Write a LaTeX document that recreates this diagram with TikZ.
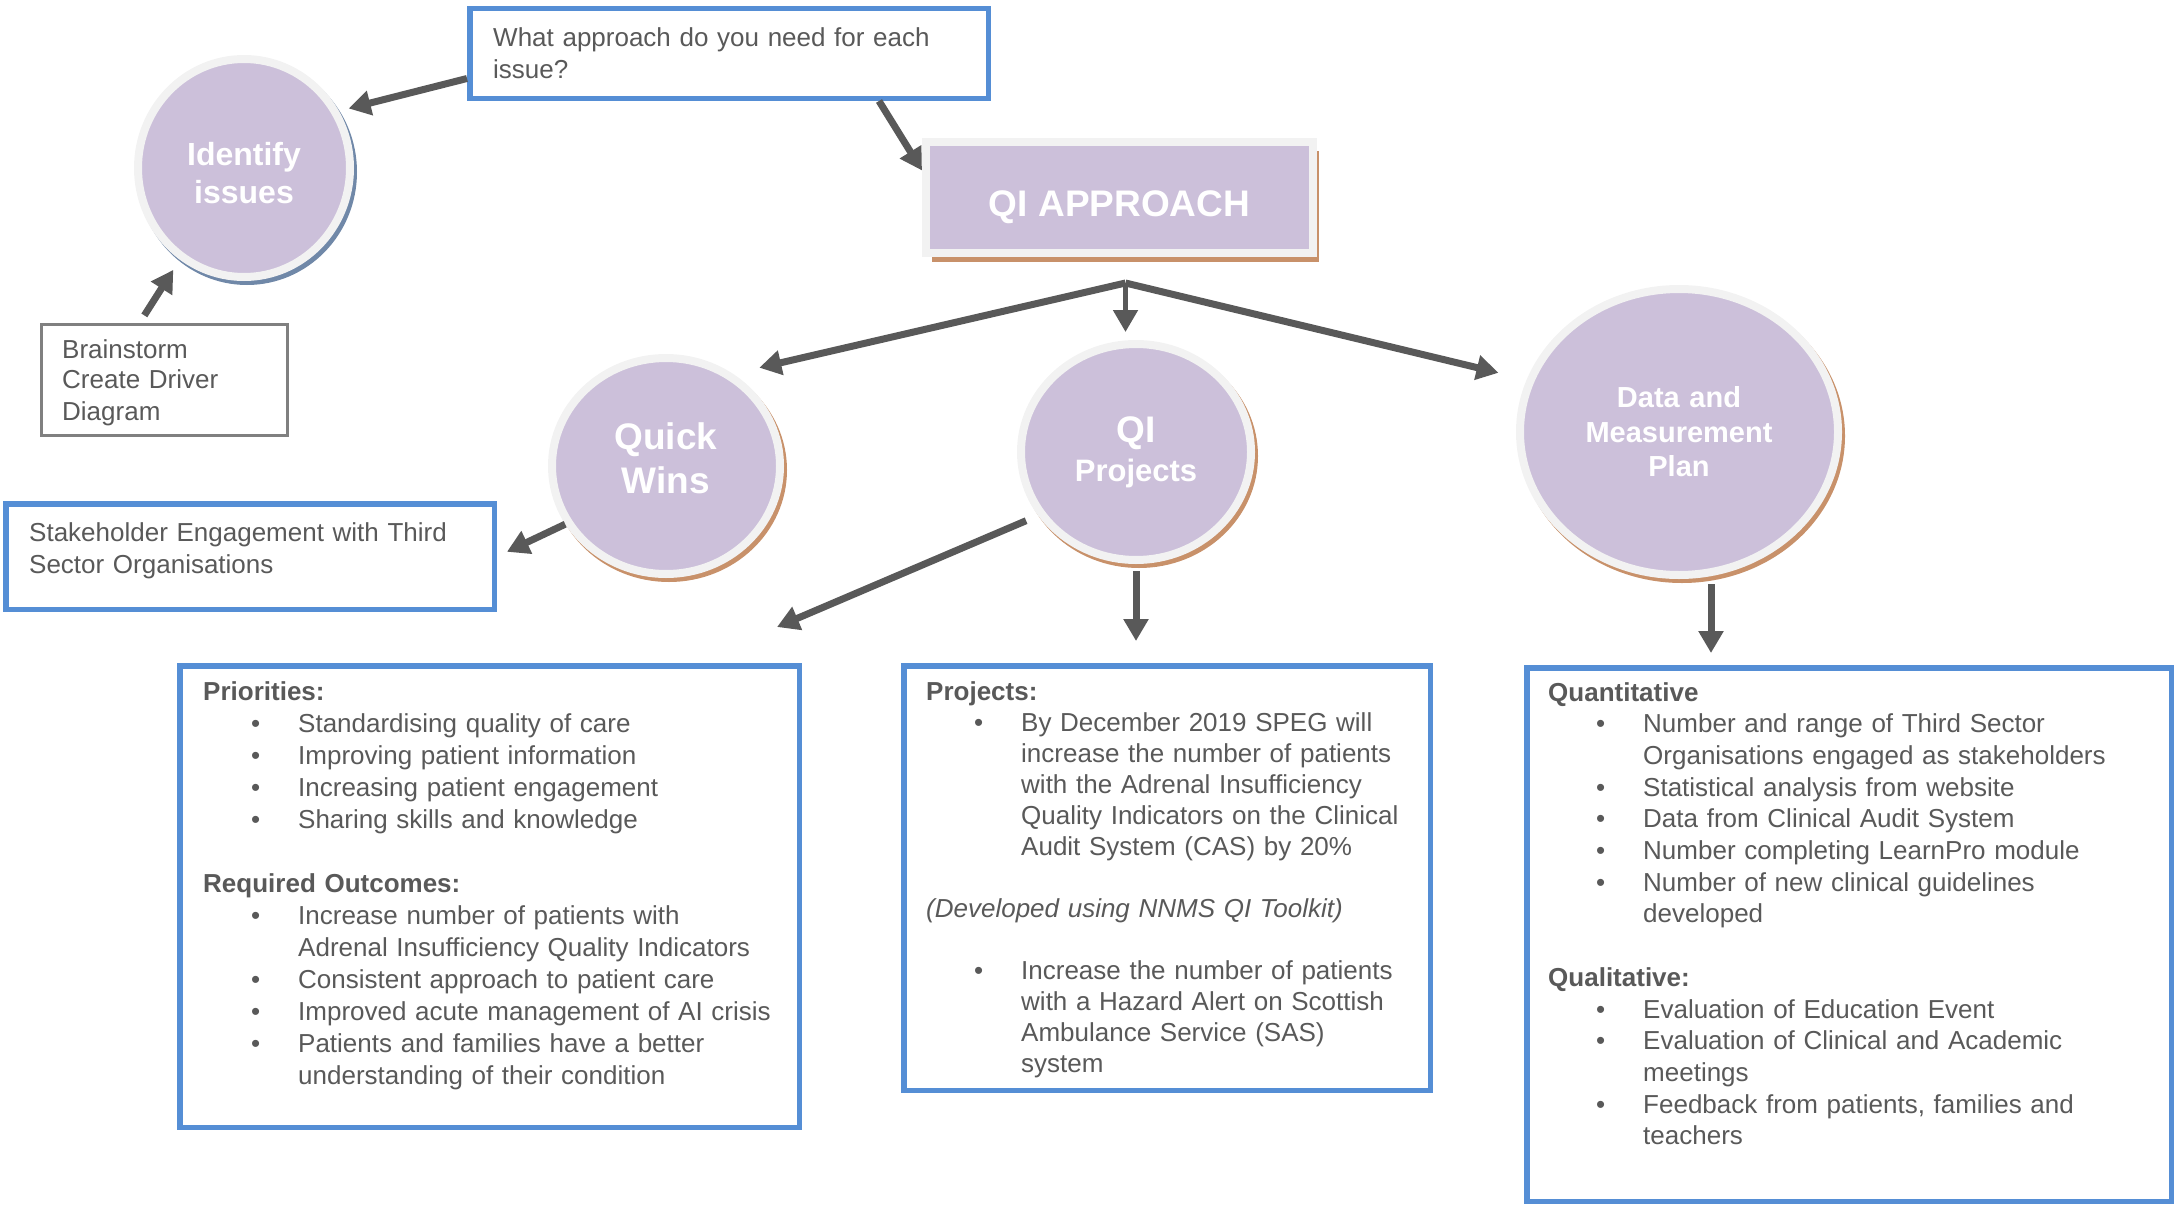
\documentclass[tikz,border=0pt]{standalone}
\usepackage{fontspec}
\setmainfont{Liberation Sans}
\usetikzlibrary{shapes.geometric,arrows.meta,shadows}

\definecolor{qipurple}{HTML}{CCC0DA}
\definecolor{ringgrey}{HTML}{F2F2F2}
\definecolor{qiblue}{HTML}{558ED5}
\definecolor{inkgrey}{HTML}{595959}
\definecolor{framegrey}{HTML}{808080}
\definecolor{tanshadow}{HTML}{C8916A}
\definecolor{slateshadow}{HTML}{7088A8}

\newcommand{\qibody}{\fontsize{26}{32}\selectfont}
\newcommand{\qibr}{\hfil\break}
\newcommand{\qiitem}[1]{\par\hangindent=95pt\hangafter=0\noindent\llap{\makebox[47pt][l]{\textbullet}}#1}
\newcommand{\qigap}{\par\vspace{\baselineskip}}

\tikzset{
  bubble/.style={ellipse, fill=qipurple, draw=ringgrey, line width=8pt, text=white,
    align=center, inner sep=2pt,
    drop shadow={shadow xshift=3pt, shadow yshift=-4pt, fill=#1, draw=#1, opacity=1}},
  bubble/.default=tanshadow,
  plate/.style={fill=qipurple, draw=ringgrey, line width=8pt, text=white,
    drop shadow={shadow xshift=6pt, shadow yshift=-9pt, fill=tanshadow, opacity=1}},
  bluebox/.style={draw=qiblue, line width=5.5pt, fill=white, inner sep=0pt},
  greybox/.style={draw=framegrey, line width=3pt, fill=white, inner sep=0pt},
  boxtext/.style={text=inkgrey, font=\qibody, align=left, inner sep=0pt, anchor=base west},
  qiarrow/.style={draw=inkgrey, line width=7pt, -{Triangle[length=22pt,width=24pt]}},
}

\begin{document}
\begin{tikzpicture}[x=1pt,y=-1pt]
  \useasboundingbox (0,0) rectangle (2179,1207);

  % top row
  \node[bubble=slateshadow, minimum width=212pt, minimum height=218pt, text width=120pt,
    text height=33pt, font=\fontsize{32}{38}\selectfont\bfseries] (idc) at (244,168) {Identify\\issues};
  \node[bluebox, minimum width=518.5pt, minimum height=89.5pt] (what) at (729,53.5) {};
  \node[boxtext, text width=480pt] (whattxt) at (493,47)
    {\fontsize{26}{30}\selectfont What approach do you need for each\\issue?};
  \node[greybox, minimum width=246pt, minimum height=111pt] (brain) at (164.5,380) {};
  \node[boxtext, text width=220pt] (braintxt) at (62,358)
    {\fontsize{26}{30.5}\selectfont Brainstorm\\Create Driver\\Diagram};
  \node[plate, minimum width=387pt, minimum height=111pt, text height=38pt, text depth=0pt,
    font=\fontsize{37}{44}\selectfont\bfseries] (qia) at (1119.5,197.5) {QI APPROACH};

  % middle row
  \node[bubble, minimum width=228pt, minimum height=216pt, text width=120pt, text depth=60pt,
    font=\fontsize{37}{44}\selectfont\bfseries] (qw) at (666,466) {Quick\\Wins};
  \node[bubble, minimum width=230pt, minimum height=216pt, text width=130pt,
    font=\fontsize{31}{39}\selectfont\bfseries] (qip) at (1136,452)
    {{\fontsize{37}{39}\selectfont QI}\\Projects};
  \node[bubble, minimum width=318pt, minimum height=286pt, text width=195pt,
    font=\fontsize{29}{34.5}\selectfont\bfseries] (dmp) at (1679,432)
    {Data and\\Measurement\\Plan};
  \node[bluebox, minimum width=488.5pt, minimum height=105.5pt] (stake) at (250,556.5) {};
  \node[boxtext, text width=460pt] (staketxt) at (29,541)
    {\fontsize{26}{30}\selectfont Stakeholder Engagement with Third\\Sector Organisations};

  % bottom row
  \node[bluebox, minimum width=619.5pt, minimum height=461.5pt] (prio) at (489.5,896.5) {};
  \node[boxtext, text width=580pt] (priotxt) at (203,700) {%
    \textbf{Priorities:}
    \qiitem{Standardising quality of care}
    \qiitem{Improving patient information}
    \qiitem{Increasing patient engagement}
    \qiitem{Sharing skills and knowledge}
    \qigap\textbf{Required Outcomes:}
    \qiitem{Increase number of patients with\qibr Adrenal Insufficiency Quality Indicators}
    \qiitem{Consistent approach to patient care}
    \qiitem{Improved acute management of AI crisis}
    \qiitem{Patients and families have a better\qibr understanding of their condition}\par};

  \node[bluebox, minimum width=526.5pt, minimum height=424.5pt] (proj) at (1167,878) {};
  \node[boxtext, text width=500pt] (projtxt) at (926,700) {%
    \fontsize{26}{31}\selectfont
    \textbf{Projects:}
    \qiitem{By December 2019 SPEG will\qibr increase the number of patients\qibr with the Adrenal Insufficiency\qibr Quality Indicators on the Clinical\qibr Audit System (CAS) by 20\%}
    \qigap\textit{(Developed using NNMS QI Toolkit)}
    \qigap\qiitem{Increase the number of patients\qibr with a Hazard Alert on Scottish\qibr Ambulance Service (SAS)\qibr system}\par};

  \node[bluebox, minimum width=644.5pt, minimum height=533.5pt] (quant) at (1849,934.5) {};
  \node[boxtext, text width=600pt] (quanttxt) at (1548,701) {%
    \fontsize{26}{31.7}\selectfont
    \textbf{Quantitative}
    \qiitem{Number and range of Third Sector\qibr Organisations engaged as stakeholders}
    \qiitem{Statistical analysis from website}
    \qiitem{Data from Clinical Audit System}
    \qiitem{Number completing LearnPro module}
    \qiitem{Number of new clinical guidelines\qibr developed}
    \qigap\textbf{Qualitative:}
    \qiitem{Evaluation of Education Event}
    \qiitem{Evaluation of Clinical and Academic\qibr meetings}
    \qiitem{Feedback from patients, families and\qibr teachers}\par};

  % connectors
  \coordinate (fork) at ([xshift=6pt,yshift=-26pt]qia.south);
  \coordinate (dmpfoot) at ([xshift=32pt,yshift=-5pt]dmp.south);

  \draw[qiarrow, shorten >=10pt] ([yshift=-25pt]what.west) -- (idc.31);
  \draw[qiarrow] ([xshift=150pt]what.south) -- ([yshift=27pt]qia.west);
  \draw[qiarrow, shorten <=9pt, shorten >=12pt] ([xshift=-25pt]brain.north) -- (idc.235);
  \draw[qiarrow, shorten >=27pt] (fork) -- (qw.54);
  \draw[qiarrow, line width=5pt, shorten >=8pt] (fork) -- (fork |- qip.north);
  \draw[qiarrow, shorten >=29pt] (fork) -- (dmp.161);
  \draw[qiarrow, shorten >=11pt] (qw.210) -- (stake.east);
  \draw[qiarrow, shorten <=13pt] (qip.213) -- ([shift={(-25,-36)}]prio.north east);
  \draw[qiarrow, shorten <=7pt, shorten >=22pt] (qip.south) -- (qip.south |- proj.north);
  \draw[qiarrow, shorten >=12pt] (dmpfoot) -- (dmpfoot |- quant.north);
\end{tikzpicture}
\end{document}
